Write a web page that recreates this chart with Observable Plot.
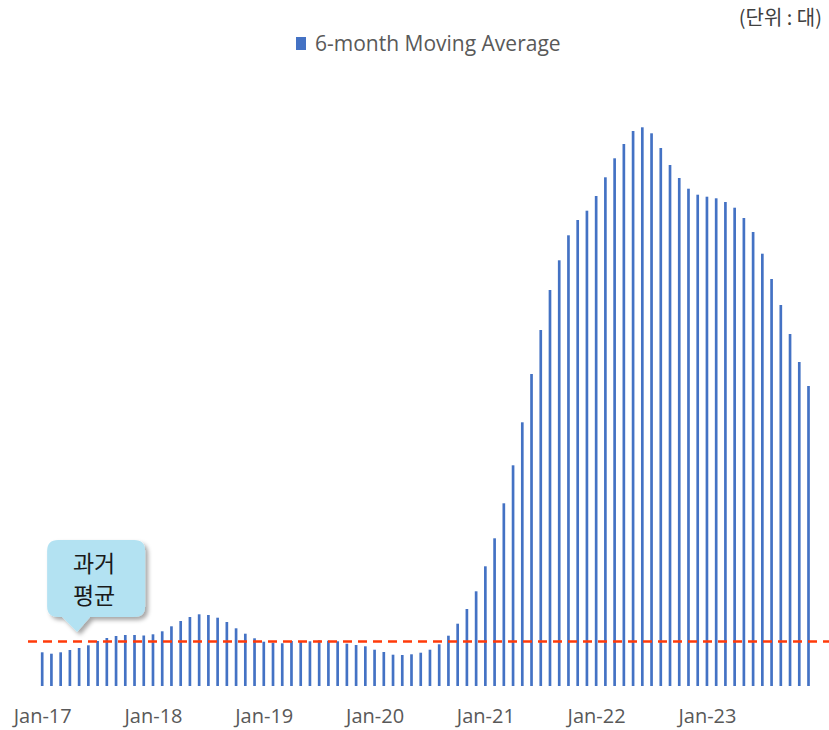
<!DOCTYPE html>
<html>
<head>
<meta charset="utf-8">
<script src="https://cdn.jsdelivr.net/npm/d3@7"></script>
<script src="https://cdn.jsdelivr.net/npm/@observablehq/plot@0.6"></script>
<style>
  html, body { margin: 0; padding: 0; background: #fff; }
  #wrap { position: relative; width: 829px; height: 730px; overflow: hidden; }
  #legend { position: absolute; left: 296px; top: 29px; font-family: "Open Sans", sans-serif; font-size: 21px; color: #595959; white-space: nowrap; display: flex; align-items: center; }
  #legend .sw { display: inline-block; width: 10px; height: 13px; background: #4472C4; margin-right: 9px; }
  #unit { position: absolute; right: 7px; top: 2px; font-family: "Noto Sans CJK KR", sans-serif; font-size: 20px; color: #404040; white-space: nowrap; }
  #chart { position: absolute; left: 0; top: 0; }
</style>
</head>
<body>
<div id="wrap">
  <div id="chart"></div>
  <div id="legend"><span class="sw"></span><span>6-month Moving Average</span></div>
  <div id="unit">(단위 : 대)</div>
</div>
<script>
// ---- data (6-month moving average, monthly, Jan-17 .. Dec-23) ----
const years = ["17", "18", "19", "20", "21", "22", "23"];
const monthNames = ["Jan","Feb","Mar","Apr","May","Jun","Jul","Aug","Sep","Oct","Nov","Dec"];
const v2017 = [337, 323, 337, 360, 380, 407, 450, 480, 500, 510, 510, 505];
const v2018 = [517, 547, 597, 650, 690, 717, 710, 683, 640, 577, 523, 477];
const v2019 = [443, 433, 427, 450, 450, 447, 457, 453, 447, 423, 410, 397];
const v2020 = [363, 340, 313, 310, 317, 333, 363, 417, 503, 623, 770, 947];
const v2021 = [1197, 1477, 1827, 2207, 2637, 3120, 3560, 3960, 4257, 4507, 4660, 4753];
const v2022 = [4900, 5087, 5277, 5420, 5550, 5587, 5527, 5380, 5210, 5080, 4973, 4913];
const v2023 = [4893, 4877, 4840, 4783, 4680, 4540, 4323, 4070, 3810, 3520, 3240, 3000];
const pastAverage = 450;
const tickLabels = ["Jan-17", "Jan-18", "Jan-19", "Jan-20", "Jan-21", "Jan-22", "Jan-23"];
const calloutLines = ["과거", "평균"];

const yearValues = [v2017, v2018, v2019, v2020, v2021, v2022, v2023];
const data = [];
yearValues.forEach((vals, yi) => {
  vals.forEach((v, mi) => data.push({key: `${monthNames[mi]}-${years[yi]}`, value: v}));
});
const keys = data.map(d => d.key);

const W = 829, H = 730;
const plot = Plot.plot({
  width: W,
  height: H,
  marginLeft: 28,
  marginRight: 0,
  marginTop: 80,
  marginBottom: 44,
  style: {background: "transparent", overflow: "visible"},
  x: {type: "band", domain: keys, range: [34.3, 816.4], padding: 0.71, round: false, label: null},
  y: {domain: [0, 6000], range: [686, 86], axis: null},
  marks: [
    Plot.barY(data, {x: "key", y: "value", fill: "#4472C4"}),
    Plot.ruleY([0], {x1: keys[0], x2: keys[keys.length - 1], stroke: "#D9D9D9", strokeWidth: 2, insetLeft: -3, insetRight: -3}),
    Plot.ruleY([pastAverage], {stroke: "#FF3B0A", strokeWidth: 2.5, strokeDasharray: "9,6"}),
    Plot.axisX({
      ticks: tickLabels,
      tickSize: 0,
      tickPadding: 22,
      tickFormat: d => d,
      fontSize: 20,
      fill: "#595959",
      fontFamily: "Open Sans, sans-serif",
      label: null
    })
  ]
});
document.getElementById("chart").appendChild(plot);

// ---- callout bubble anchored at the past-average line ----
const xs = plot.scale("x"), ys = plot.scale("y");
const svg = d3.select(plot);
const ax = xs.apply(keys[4]) + xs.bandwidth / 2 - 2;
const ay = ys.apply(pastAverage) - 9;
const defs = svg.append("defs");
const f = defs.append("filter").attr("id", "shadow").attr("x", "-20%").attr("y", "-20%").attr("width", "150%").attr("height", "150%");
f.append("feDropShadow").attr("dx", 3).attr("dy", 3).attr("stdDeviation", 2).attr("flood-color", "#000").attr("flood-opacity", 0.35);
const bx0 = ax - 30, bx1 = ax + 68, by0 = ay - 92, by1 = ay - 15, r = 11;
const path = [
  `M${bx0 + r},${by0}`,
  `H${bx1 - r}`, `Q${bx1},${by0} ${bx1},${by0 + r}`,
  `V${by1 - r}`, `Q${bx1},${by1} ${bx1 - r},${by1}`,
  `H${ax + 13}`, `L${ax},${ay}`, `L${ax - 15},${by1}`,
  `H${bx0 + r}`, `Q${bx0},${by1} ${bx0},${by1 - r}`,
  `V${by0 + r}`, `Q${bx0},${by0} ${bx0 + r},${by0}`, "Z"
].join(" ");
const g = svg.append("g");
g.append("path").attr("d", path).attr("fill", "#B3E2F2").attr("filter", "url(#shadow)");
calloutLines.forEach((t, i) => {
  g.append("text")
    .attr("x", (bx0 + bx1) / 2 - 2)
    .attr("y", by0 + 22 + i * 32)
    .attr("text-anchor", "middle")
    .attr("dominant-baseline", "central")
    .attr("font-family", "Noto Sans CJK KR, sans-serif")
    .attr("font-size", 23)
    .attr("fill", "#1a1a1a")
    .text(t);
});
</script>
</body>
</html>
